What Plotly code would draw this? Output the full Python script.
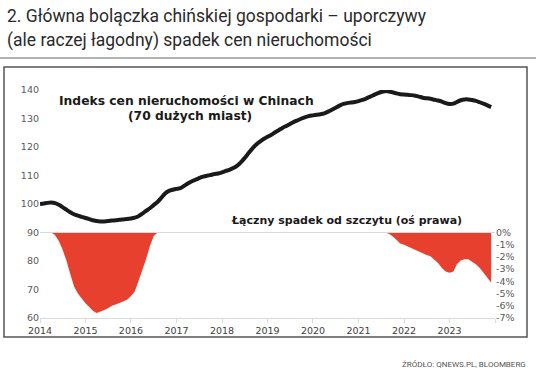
import plotly.graph_objects as go
import pandas as pd

dates = pd.date_range("2014-01-01", "2023-12-01", freq="MS")

index_values = [
    100.0, 100.2, 100.4, 100.5, 100.3, 99.7, 98.9, 98.0, 97.1, 96.4, 95.9, 95.5,
    95.1, 94.7, 94.3, 94.0, 93.9, 93.9, 94.0, 94.2, 94.3, 94.5, 94.6, 94.7,
    94.9, 95.2, 95.7, 96.6, 97.6, 98.5, 99.6, 100.7, 102.2, 103.7, 104.6, 105.0,
    105.3, 105.6, 106.3, 107.2, 107.9, 108.5, 109.1, 109.6, 109.9, 110.2, 110.5, 110.7,
    111.1, 111.6, 112.0, 112.6, 113.4, 114.6, 116.1, 117.8, 119.4, 120.8, 121.9, 122.8,
    123.6, 124.3, 125.1, 125.9, 126.7, 127.4, 128.1, 128.8, 129.4, 130.0, 130.5, 130.9,
    131.1, 131.3, 131.5, 131.8, 132.4, 133.1, 133.8, 134.5, 135.1, 135.4, 135.6, 135.8,
    136.1, 136.5, 137.0, 137.6, 138.2, 138.8, 139.3, 139.6, 139.5, 139.2, 138.8, 138.5,
    138.4, 138.3, 138.2, 138.0, 137.7, 137.3, 137.1, 136.9, 136.6, 136.3, 135.9, 135.4,
    135.1, 135.2, 135.8, 136.4, 136.7, 136.7, 136.5, 136.2, 135.7, 135.2, 134.6, 134.0,
]

drawdown_pct = [
    0, 0, 0, 0, -0.2, -0.7, -1.4, -2.3, -3.4, -4.4, -5.0, -5.4,
    -5.8, -6.1, -6.4, -6.6, -6.5, -6.35, -6.2, -6.0, -5.9, -5.75, -5.6, -5.5,
    -5.2, -4.8, -4.0, -3.1, -2.2, -1.1, -0.3, 0, 0, 0, 0, 0,
    0, 0, 0, 0, 0, 0, 0, 0, 0, 0, 0, 0,
    0, 0, 0, 0, 0, 0, 0, 0, 0, 0, 0, 0,
    0, 0, 0, 0, 0, 0, 0, 0, 0, 0, 0, 0,
    0, 0, 0, 0, 0, 0, 0, 0, 0, 0, 0, 0,
    0, 0, 0, 0, 0, 0, 0, 0, -0.1, -0.3, -0.6, -0.9,
    -1.0, -1.15, -1.3, -1.45, -1.6, -1.75, -1.85, -1.95, -2.2, -2.5, -2.9, -3.2,
    -3.3, -3.2, -2.6, -2.3, -2.2, -2.2, -2.4, -2.6, -2.9, -3.3, -3.7, -4.1,
]

year_ticks = ["2014-01-01", "2015-01-01", "2016-01-01", "2017-01-01", "2018-01-01",
              "2019-01-01", "2020-01-01", "2021-01-01", "2022-01-01", "2023-01-01", "2024-01-01"]
year_labels = ["2014", "2015", "2016", "2017", "2018", "2019", "2020", "2021", "2022", "2023", ""]
left_ticks = [60, 70, 80, 90, 100, 110, 120, 130, 140]
right_ticks = [-7, -6, -5, -4, -3, -2, -1, 0]
right_labels = ["-7%", "-6%", "-5%", "-4%", "-3%", "-2%", "-1%", "0%"]

title_line1 = "2. Główna bolączka chińskiej gospodarki – uporczywy"
title_line2 = "(ale raczej łagodny) spadek cen nieruchomości"
label_index1 = "Indeks cen nieruchomości w Chinach"
label_index2 = "(70 dużych miast)"
label_drop = "Łączny spadek od szczytu (oś prawa)"
source = "ŹRÓDŁO: QNEWS.PL, BLOOMBERG"

fig = go.Figure()
fig.add_trace(go.Scatter(
    x=dates, y=drawdown_pct, yaxis="y2", mode="lines",
    line=dict(width=0, color="#E8402F"), fill="tozeroy", fillcolor="#E8402F",
    showlegend=False, hoverinfo="skip"))
fig.add_trace(go.Scatter(
    x=dates, y=index_values, mode="lines",
    line=dict(width=4, color="#1a1a1a", shape="spline", smoothing=0.6), showlegend=False))

tick_font = dict(family="DejaVu Sans", size=9.5, color="#595959")

fig.update_layout(
    width=536, height=375,
    margin=dict(l=40, r=41, t=90, b=57),
    paper_bgcolor="white", plot_bgcolor="white",
    xaxis=dict(range=["2014-01-01", "2024-01-01"], tickvals=year_ticks, ticktext=year_labels,
               showgrid=False, zeroline=False, showline=True, linecolor="#d9d9d9", linewidth=1,
               ticks="outside", ticklen=4, tickcolor="#d9d9d9",
               tickfont=dict(family="DejaVu Sans", size=9.5, color="#404040")),
    yaxis=dict(range=[60, 140], tickvals=left_ticks, showgrid=False, zeroline=False,
               showline=False, ticks="", tickfont=tick_font),
    yaxis2=dict(range=[-7, 70 / 6], overlaying="y", side="right", tickvals=right_ticks,
                ticktext=right_labels, showgrid=False, zeroline=False, showline=False,
                ticks="", tickfont=tick_font),
)

def px(x):
    return (x - 40) / 455

def py(y):
    return (318 - y) / 228

shapes = [
    dict(type="line", xref="paper", yref="paper", x0=px(0), x1=px(536), y0=py(58), y1=py(58),
         line=dict(color="#9a9a9a", width=1.5)),
    dict(type="rect", xref="paper", yref="paper", x0=px(4), x1=px(527), y0=py(337), y1=py(67),
         line=dict(color="#555555", width=1.5)),
    dict(type="line", xref="paper", yref="y2", x0=0, x1=1, y0=0, y1=0,
         line=dict(color="#d9d9d9", width=1)),
]
fig.update_layout(shapes=shapes)

ann = [
    dict(text=title_line1, x=px(5), y=py(16), xanchor="left", yanchor="middle",
         font=dict(family="Roboto", size=17.5, color="#2a2a2a")),
    dict(text=title_line2, x=px(5), y=py(40), xanchor="left", yanchor="middle",
         font=dict(family="Roboto", size=17.5, color="#2a2a2a")),
    dict(text="<b>" + label_index1 + "</b>", x=px(186), y=py(101), xanchor="center", yanchor="middle",
         font=dict(family="DejaVu Sans", size=12.3, color="#1a1a1a")),
    dict(text="<b>" + label_index2 + "</b>", x=px(190), y=py(116), xanchor="center", yanchor="middle",
         font=dict(family="DejaVu Sans", size=12.3, color="#1a1a1a")),
    dict(text="<b>" + label_drop + "</b>", x=px(346), y=py(220), xanchor="center", yanchor="middle",
         font=dict(family="DejaVu Sans", size=11, color="#1a1a1a")),
    dict(text=source, x=px(528), y=py(364), xanchor="right", yanchor="middle",
         font=dict(family="Roboto", size=8, color="#555555")),
]
for a in ann:
    a.update(xref="paper", yref="paper", showarrow=False)
fig.update_layout(annotations=ann)

fig.write_html("out.html", config={"displayModeBar": False},
               post_script="document.body.style.margin='0';")
